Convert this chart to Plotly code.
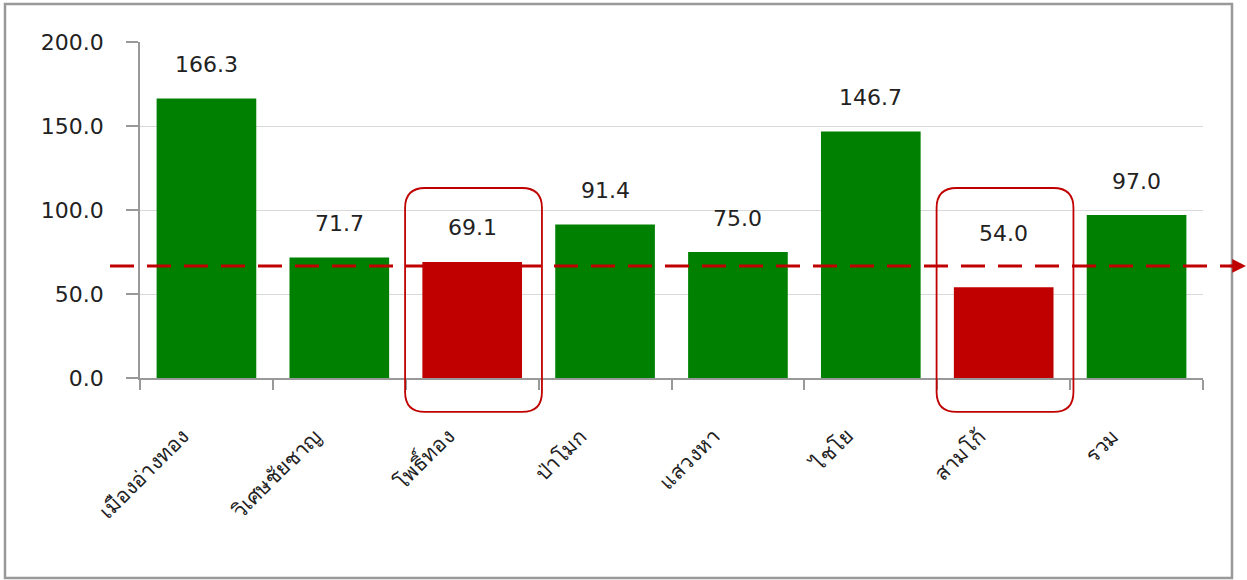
import plotly.graph_objects as go

categories = ["เมืองอ่างทอง", "วิเศษชัยชาญ", "โพธิ์ทอง", "ป่าโมก", "แสวงหา", "ไชโย", "สามโก้", "รวม"]
values = [166.3, 71.7, 69.1, 91.4, 75.0, 146.7, 54.0, 97.0]
highlight = [False, False, True, False, False, False, True, False]
target = 66.7
y_ticks = [0, 50, 100, 150, 200]

GREEN = "#008000"
RED = "#C00000"
FONT = "DejaVu Sans, Noto Sans, sans-serif"

W, H = 1247, 580
ML, MR, MT, MB = 140, 44, 42, 202
PW, PH = W - ML - MR, H - MT - MB
Y_MAX = 200
N = len(categories)

# label placement tweaks (pixels)
label_shift = {"สามโก้": 20}

def px2paper_x(px):
    return (px - ML) / PW

def px2paper_y(py):
    return (H - MB - py) / PH

def cat2paper(i):
    return (i + 0.5) / N

colors = [RED if h else GREEN for h in highlight]

fig = go.Figure()
fig.add_trace(go.Bar(
    x=categories, y=values, marker=dict(color=colors, line=dict(width=0)),
    hoverinfo="x+y", showlegend=False,
))

annotations = []
for c, v in zip(categories, values):
    annotations.append(dict(x=c, y=v, xref="x", yref="y", text=f"{v:.1f}",
                            showarrow=False, yshift=34 + label_shift.get(c, 0),
                            font=dict(size=22, color="#222", family=FONT)))

# arrow head at end of target line
annotations.append(dict(x=px2paper_x(1246), y=target, xref="paper", yref="y",
                        ax=-18, ay=0, axref="pixel", ayref="pixel",
                        text="", showarrow=True, arrowhead=2, arrowsize=1.1,
                        arrowwidth=2.5, arrowcolor=RED))

shapes = []
# target dashed line
shapes.append(dict(type="line", xref="paper", yref="y",
                   x0=px2paper_x(110), x1=px2paper_x(1234), y0=target, y1=target,
                   line=dict(color=RED, width=3, dash="24px,13px")))

# rounded boxes around highlighted bars (paper coords so they are not clipped)
rpx = 20
for i, h in enumerate(highlight):
    if not h:
        continue
    cx = cat2paper(i)
    x0 = cx - 0.505 / N
    x1 = cx + 0.525 / N
    y0 = -20.2 / Y_MAX
    y1 = 113.1 / Y_MAX
    rx = rpx / PW
    ry = rpx / PH
    path = (f"M {x0+rx},{y0} L {x1-rx},{y0} Q {x1},{y0} {x1},{y0+ry} "
            f"L {x1},{y1-ry} Q {x1},{y1} {x1-rx},{y1} "
            f"L {x0+rx},{y1} Q {x0},{y1} {x0},{y1-ry} "
            f"L {x0},{y0+ry} Q {x0},{y0} {x0+rx},{y0} Z")
    shapes.append(dict(type="path", xref="paper", yref="paper", path=path,
                       line=dict(color=RED, width=1.8), fillcolor="rgba(0,0,0,0)"))

# outer border
shapes.append(dict(type="rect", xref="paper", yref="paper",
                   x0=px2paper_x(5), x1=px2paper_x(1232),
                   y0=px2paper_y(578), y1=px2paper_y(4),
                   line=dict(color="#999999", width=2.5), fillcolor="rgba(0,0,0,0)", layer="below"))

fig.update_layout(
    width=W, height=H,
    margin=dict(l=ML, r=MR, t=MT, b=MB, autoexpand=False),
    paper_bgcolor="white", plot_bgcolor="white",
    bargap=0.25,
    font=dict(family=FONT, size=21, color="#222"),
    annotations=annotations, shapes=shapes,
    xaxis=dict(type="category", tickangle=-45, tickson="boundaries",
               ticks="outside", ticklen=10, tickcolor="#999", tickwidth=1.5,
               showline=True, linecolor="#999", linewidth=1.5,
               showgrid=False, range=[-0.5, N - 0.5],
               ticklabelstandoff=36, ticklabelshift=-24,
               tickfont=dict(size=21, family=FONT, color="#222")),
    yaxis=dict(range=[0, Y_MAX], tickvals=y_ticks, tickformat=".1f",
               ticks="outside", ticklen=12, tickcolor="#999", tickwidth=1.5,
               showline=True, linecolor="#999", linewidth=1.5,
               showgrid=True, gridcolor="#d9d9d9", gridwidth=1.2,
               zeroline=False, ticklabelstandoff=18,
               tickfont=dict(size=22, family=FONT, color="#222")),
)

fig.write_html("out.html", config={"displayModeBar": False})

with open("out.html", "r", encoding="utf-8") as f:
    html = f.read()
html = html.replace("<head>", "<head><style>html,body{margin:0;padding:0;overflow:hidden;}</style>", 1)
with open("out.html", "w", encoding="utf-8") as f:
    f.write(html)
